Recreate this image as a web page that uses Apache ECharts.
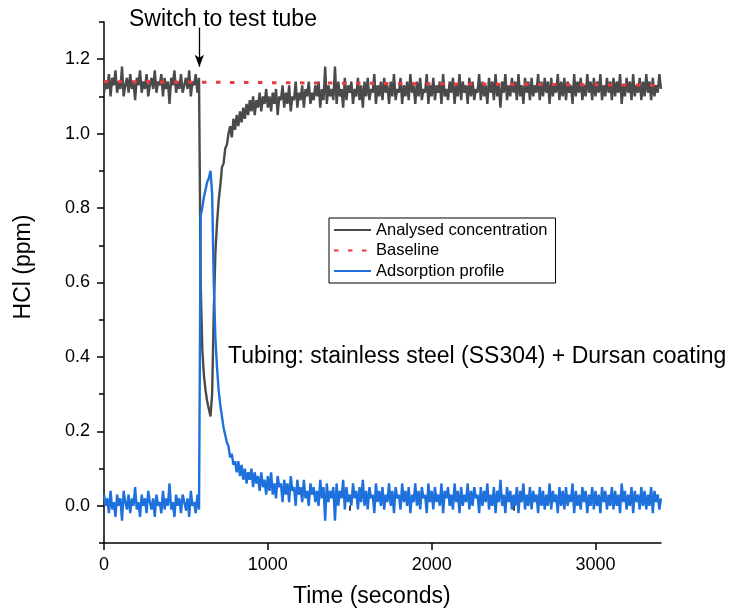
<!DOCTYPE html>
<html>
<head>
<meta charset="utf-8">
<script src="https://cdn.jsdelivr.net/npm/echarts@6/dist/echarts.min.js"></script>
<style>html,body{margin:0;padding:0;background:#fff;}#chart{width:733px;height:612px;}</style>
</head>
<body>
<div id="chart"></div>
<script>
const times = [
0,10,20,30,40,50,60,70,80,90,
100,110,120,130,140,150,160,170,180,190,
200,210,220,230,240,250,260,270,280,290,
300,310,320,330,340,350,360,370,380,390,
400,410,420,430,440,450,460,470,480,490,
500,510,520,530,540,550,560,570,580,590,
600,610,620,630,640,650,660,670,680,690,
700,710,720,730,740,750,760,770,780,790,
800,810,820,830,840,850,860,870,880,890,
900,910,920,930,940,950,960,970,980,990,
1000,1010,1020,1030,1040,1050,1060,1070,1080,1090,
1100,1110,1120,1130,1140,1150,1160,1170,1180,1190,
1200,1210,1220,1230,1240,1250,1260,1270,1280,1290,
1300,1310,1320,1330,1340,1350,1360,1370,1380,1390,
1400,1410,1420,1430,1440,1450,1460,1470,1480,1490,
1500,1510,1520,1530,1540,1550,1560,1570,1580,1590,
1600,1610,1620,1630,1640,1650,1660,1670,1680,1690,
1700,1710,1720,1730,1740,1750,1760,1770,1780,1790,
1800,1810,1820,1830,1840,1850,1860,1870,1880,1890,
1900,1910,1920,1930,1940,1950,1960,1970,1980,1990,
2000,2010,2020,2030,2040,2050,2060,2070,2080,2090,
2100,2110,2120,2130,2140,2150,2160,2170,2180,2190,
2200,2210,2220,2230,2240,2250,2260,2270,2280,2290,
2300,2310,2320,2330,2340,2350,2360,2370,2380,2390,
2400,2410,2420,2430,2440,2450,2460,2470,2480,2490,
2500,2510,2520,2530,2540,2550,2560,2570,2580,2590,
2600,2610,2620,2630,2640,2650,2660,2670,2680,2690,
2700,2710,2720,2730,2740,2750,2760,2770,2780,2790,
2800,2810,2820,2830,2840,2850,2860,2870,2880,2890,
2900,2910,2920,2930,2940,2950,2960,2970,2980,2990,
3000,3010,3020,3030,3040,3050,3060,3070,3080,3090,
3100,3110,3120,3130,3140,3150,3160,3170,3180,3190,
3200,3210,3220,3230,3240,3250,3260,3270,3280,3290,
3300,3310,3320,3330,3340,3350,3360,3370,3380,3390,
3400];

const analysed = [
1.11,1.14,1.12,1.16,1.10,1.15,1.13,1.17,1.11,1.14,
1.12,1.18,1.10,1.13,1.15,1.11,1.16,1.12,1.14,1.09,
1.15,1.13,1.17,1.11,1.14,1.12,1.16,1.10,1.13,1.15,
1.12,1.17,1.11,1.14,1.13,1.16,1.10,1.15,1.12,1.14,
1.08,1.15,1.13,1.17,1.11,1.14,1.12,1.16,1.11,1.13,
1.15,1.12,1.17,1.10,1.14,1.13,1.16,1.11,1.15,0.60,
0.42,0.35,0.31,0.28,0.26,0.24,0.30,0.52,0.68,0.76,
0.82,0.86,0.91,0.92,0.96,0.97,1.00,1.02,0.99,1.04,
1.01,1.05,1.02,1.06,1.03,1.07,1.04,1.08,1.05,1.09,
1.06,1.10,1.05,1.09,1.07,1.11,1.06,1.10,1.08,1.12,
1.07,1.10,1.06,1.11,1.08,1.12,1.05,1.10,1.09,1.13,
1.07,1.11,1.08,1.13,1.06,1.10,1.09,1.14,1.07,1.11,
1.09,1.13,1.07,1.12,1.10,1.14,1.08,1.11,1.09,1.13,
1.10,1.14,1.07,1.12,1.09,1.18,1.08,1.13,1.10,1.12,
1.09,1.18,1.08,1.14,1.10,1.12,1.07,1.15,1.09,1.13,
1.11,1.14,1.08,1.12,1.10,1.15,1.09,1.13,1.07,1.14,
1.10,1.15,1.09,1.12,1.11,1.16,1.08,1.13,1.10,1.14,
1.09,1.15,1.11,1.13,1.08,1.14,1.10,1.16,1.09,1.12,
1.11,1.15,1.08,1.13,1.10,1.14,1.09,1.16,1.11,1.13,
1.08,1.14,1.10,1.15,1.09,1.12,1.11,1.16,1.08,1.13,
1.10,1.15,1.09,1.13,1.11,1.14,1.08,1.16,1.10,1.12,
1.09,1.14,1.11,1.15,1.08,1.13,1.10,1.16,1.09,1.14,
1.11,1.13,1.08,1.15,1.10,1.14,1.09,1.12,1.11,1.16,
1.09,1.14,1.10,1.13,1.08,1.15,1.11,1.14,1.09,1.16,
1.10,1.13,1.07,1.14,1.11,1.16,1.09,1.13,1.10,1.15,
1.11,1.14,1.09,1.16,1.10,1.13,1.08,1.15,1.11,1.14,
1.09,1.15,1.10,1.13,1.11,1.16,1.09,1.14,1.10,1.15,
1.11,1.14,1.08,1.15,1.10,1.13,1.11,1.16,1.09,1.14,
1.10,1.15,1.09,1.14,1.11,1.13,1.08,1.16,1.10,1.14,
1.11,1.15,1.09,1.13,1.10,1.16,1.11,1.14,1.09,1.15,
1.10,1.14,1.11,1.16,1.09,1.13,1.10,1.15,1.11,1.14,
1.09,1.15,1.10,1.14,1.11,1.16,1.08,1.13,1.10,1.15,
1.11,1.14,1.09,1.16,1.10,1.13,1.11,1.15,1.09,1.14,
1.10,1.16,1.11,1.14,1.09,1.15,1.10,1.13,1.11,1.16,
1.12];

const adsorption = [
0.03,0.00,0.02,-0.02,0.04,-0.01,0.01,-0.03,0.03,0.00,
0.02,-0.04,0.04,0.01,-0.01,0.03,-0.02,0.02,0.00,0.05,
-0.01,0.01,-0.03,0.03,0.00,0.02,-0.02,0.04,0.01,-0.01,
0.02,-0.03,0.03,0.00,0.01,-0.02,0.04,-0.01,0.02,0.00,
0.06,-0.01,0.01,-0.03,0.03,0.00,0.02,-0.02,0.03,0.01,
-0.01,0.02,-0.03,0.04,0.00,0.01,-0.02,0.03,-0.01,0.78,
0.80,0.83,0.85,0.87,0.88,0.90,0.84,0.60,0.45,0.37,
0.31,0.27,0.24,0.21,0.19,0.17,0.16,0.13,0.14,0.11,
0.12,0.09,0.12,0.08,0.11,0.07,0.10,0.06,0.09,0.07,
0.10,0.05,0.09,0.06,0.08,0.04,0.09,0.05,0.07,0.03,
0.08,0.04,0.09,0.03,0.06,0.02,0.08,0.05,0.06,0.01,
0.07,0.03,0.06,0.01,0.08,0.04,0.05,0.00,0.07,0.03,
0.05,0.01,0.07,0.02,0.04,0.00,0.06,0.03,0.05,0.01,
0.04,0.00,0.07,0.02,0.05,-0.04,0.06,0.01,0.04,0.02,
0.05,-0.04,0.06,0.00,0.04,0.02,0.07,-0.01,0.05,0.01,
0.03,0.00,0.06,0.02,0.04,-0.01,0.05,0.01,0.07,0.00,
0.04,-0.01,0.05,0.02,0.03,-0.02,0.06,0.01,0.04,0.00,
0.05,-0.01,0.03,0.01,0.06,0.00,0.04,-0.02,0.05,0.02,
0.03,-0.01,0.06,0.01,0.04,0.00,0.05,-0.02,0.03,0.01,
0.06,0.00,0.04,-0.01,0.05,0.02,0.03,-0.02,0.06,0.01,
0.04,-0.01,0.05,0.01,0.03,0.00,0.06,-0.02,0.04,0.02,
0.05,0.00,0.03,-0.01,0.06,0.01,0.04,-0.02,0.05,0.00,
0.03,0.01,0.06,-0.01,0.04,0.00,0.05,0.02,0.03,-0.02,
0.05,0.00,0.04,0.01,0.06,-0.01,0.03,0.00,0.05,-0.02,
0.04,0.01,0.07,0.00,0.03,-0.02,0.05,0.01,0.04,-0.01,
0.03,0.00,0.05,-0.02,0.04,0.01,0.06,-0.01,0.03,0.00,
0.05,-0.01,0.04,0.01,0.03,-0.02,0.05,0.00,0.04,-0.01,
0.03,0.00,0.06,-0.01,0.04,0.01,0.03,-0.02,0.05,0.00,
0.04,-0.01,0.05,0.00,0.03,0.01,0.06,-0.02,0.04,0.00,
0.03,-0.01,0.05,0.01,0.04,-0.02,0.03,0.00,0.05,-0.01,
0.04,0.00,0.03,-0.02,0.05,0.01,0.04,-0.01,0.03,0.00,
0.05,-0.01,0.04,0.00,0.03,-0.02,0.06,0.01,0.04,-0.01,
0.03,0.00,0.05,-0.02,0.04,0.01,0.03,-0.01,0.05,0.00,
0.04,-0.01,0.03,0.00,0.05,-0.02,0.04,0.01,0.03,-0.01,
0.02];

const baselineTimes = [0, 3400];
const baselineValues = [1.14, 1.13];

const xMajorTicks = [0, 1000, 2000, 3000];
const xMinorTicks = [500, 1500, 2500];
const yMajorTicks = [0.0, 0.2, 0.4, 0.6, 0.8, 1.0, 1.2];
const yMinorTicks = [-0.1, 0.1, 0.3, 0.5, 0.7, 0.9, 1.1, 1.3];

const switchTime = 582;
const arrowTop = 1.285, arrowTip = 1.18;

const FONT = 'Liberation Sans, Arial, Helvetica, sans-serif';
const chart = echarts.init(document.getElementById('chart'), null, {renderer: 'canvas'});

const pairs = (xs, ys) => xs.map((x, i) => [x, ys[i]]);

const axisBase = {
  type: 'value',
  axisLine: {show: true, onZero: false, lineStyle: {color: '#000', width: 1.5}},
  splitLine: {show: false}
};

chart.setOption({
  animation: false,
  backgroundColor: '#fff',
  textStyle: {fontFamily: FONT},
  grid: {left: 104, right: 72, top: 22, bottom: 69, containLabel: false},
  xAxis: [
    Object.assign({}, axisBase, {
      min: 0, max: 3400, position: 'bottom',
      axisTick: {show: true, length: 7, lineStyle: {color: '#000', width: 1.5}, customValues: xMajorTicks},
      axisLabel: {show: true, color: '#000', fontSize: 18, fontFamily: FONT, margin: 13, customValues: xMajorTicks,
        formatter: v => String(v)}
    }),
    Object.assign({}, axisBase, {
      min: 0, max: 3400, position: 'bottom', offset: 0,
      axisLine: {show: false},
      axisTick: {show: true, length: 5, lineStyle: {color: '#000', width: 1.5}, customValues: xMinorTicks},
      axisLabel: {show: false}
    })
  ],
  yAxis: [
    Object.assign({}, axisBase, {
      min: -0.1, max: 1.3, position: 'left',
      axisTick: {show: true, length: 7, lineStyle: {color: '#000', width: 1.5}, customValues: yMajorTicks},
      axisLabel: {show: true, color: '#000', fontSize: 18, fontFamily: FONT, margin: 14, customValues: yMajorTicks,
        formatter: v => Number(v).toFixed(1)}
    }),
    Object.assign({}, axisBase, {
      min: -0.1, max: 1.3, position: 'left', offset: 0,
      axisLine: {show: false},
      axisTick: {show: true, length: 5, lineStyle: {color: '#000', width: 1.5}, customValues: yMinorTicks},
      axisLabel: {show: false}
    })
  ],
  legend: {
    show: true,
    orient: 'vertical',
    left: 329, top: 218,
    data: ['Analysed concentration', 'Baseline', 'Adsorption profile'],
    itemWidth: 37, itemHeight: 14, itemGap: 3.5,
    padding: [3.5, 8, 3.5, 4],
    borderColor: '#000', borderWidth: 1, borderRadius: 0,
    backgroundColor: '#fff',
    itemStyle: {opacity: 0, borderWidth: 0},
    lineStyle: {width: 2},
    textStyle: {color: '#000', fontSize: 16.5, fontFamily: FONT, lineHeight: 17},
    selectedMode: false
  },
  series: [
    {
      name: 'Analysed concentration', type: 'line',
      xAxisIndex: 0, yAxisIndex: 0,
      data: pairs(times, analysed),
      showSymbol: false, symbol: 'none',
      lineStyle: {color: '#4a4a4a', width: 2.4, join: 'bevel'},
      itemStyle: {color: '#4a4a4a'},
      z: 2
    },
    {
      name: 'Adsorption profile', type: 'line',
      xAxisIndex: 0, yAxisIndex: 0,
      data: pairs(times, adsorption),
      showSymbol: false, symbol: 'none',
      lineStyle: {color: '#1e70dc', width: 2.4, join: 'bevel'},
      itemStyle: {color: '#1e70dc'},
      z: 3
    },
    {
      name: 'Baseline', type: 'line',
      xAxisIndex: 0, yAxisIndex: 0,
      data: pairs(baselineTimes, baselineValues),
      showSymbol: false, symbol: 'none',
      lineStyle: {color: '#ea3b3b', width: 3, type: [4.5, 9.5], cap: 'butt'},
      itemStyle: {color: '#ea3b3b'},
      z: 4,
      markLine: {
        silent: true,
        symbol: ['none', 'arrow'],
        symbolSize: [7, 12],
        label: {show: false},
        lineStyle: {color: '#000', width: 1.3, type: 'solid'},
        data: [[{coord: [switchTime, arrowTop]}, {coord: [switchTime, arrowTip]}]]
      }
    }
  ],
  graphic: [
    {type: 'text', left: 129, top: 8, style: {text: 'Switch to test tube', fontSize: 23, fontFamily: FONT, fill: '#000'}},
    {type: 'text', left: 228, top: 345, style: {text: 'Tubing: stainless steel (SS304) + Dursan coating', fontSize: 23, fontFamily: FONT, fill: '#000'}},
    {type: 'text', left: 293, top: 585, style: {text: 'Time (seconds)', fontSize: 23, fontFamily: FONT, fill: '#000'}},
    {type: 'text', x: 24, y: 267, rotation: Math.PI / 2, style: {text: 'HCl (ppm)', fontSize: 23, fontFamily: FONT, fill: '#000', align: 'center', verticalAlign: 'middle'}}
  ]
});
</script>
</body>
</html>
